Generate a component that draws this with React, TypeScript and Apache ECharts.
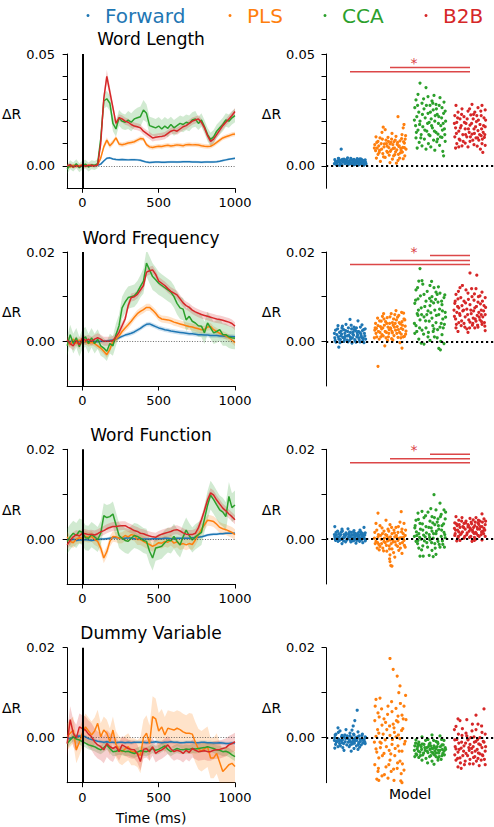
import React, { useEffect, useRef } from "react";
import * as echarts from "echarts";

const FONT = "DejaVu Sans";
const MODELS = ["Forward", "PLS", "CCA", "B2B"];
const COLORS = ["#1f77b4", "#ff7f0e", "#2ca02c", "#d62728"];
const TITLES = ["Word Length", "Word Frequency", "Word Function", "Dummy Variable"];
const Y_MIN = [-0.01, -0.01, -0.01, -0.01];
const Y_MAX = [0.05, 0.02, 0.02, 0.02];
const Y_TICKS = [
  [0, 0.01, 0.02, 0.03, 0.04, 0.05],
  [0, 0.01, 0.02],
  [0, 0.01, 0.02],
  [0, 0.01, 0.02],
];
const Y_LABELS = [[0, 0.05], [0, 0.02], [0, 0.02], [0, 0.02]];
const X_TICKS = [0, 500, 1000];
const UNIT = 0.001; // all values below are ΔR in thousandths

const TIMES = [-100, -80, -60, -40, -20, 0, 20, 40, 60, 80, 100, 120, 140, 160, 180, 200, 220, 240, 260, 280, 300, 320, 340, 360, 380, 400, 420, 440, 460, 480, 500, 520, 540, 560, 580, 600, 620, 640, 660, 680, 700, 720, 740, 760, 780, 800, 820, 840, 860, 880, 900, 920, 940, 960, 980, 1000];

// ---- Word Length (time courses, mean and half-width of band)
const fwd1 = [0.0,0.3,-0.1,0.2,0.0,0.1,0.2,0.0, 0.1,0.2,0.3,0.8,2.2,3.4,3.6,3.1, 2.9,2.8,2.9,2.8,2.7,2.8,2.8,2.7, 2.5,2.1,1.7,1.5,1.6,1.7,1.7,1.6, 1.6,1.7,1.8,1.8,1.7,1.8,1.9,1.9, 1.9,1.8,1.8,1.7,1.6,1.7,1.8,1.7, 1.8,1.9,2.1,2.4,2.7,3.0,3.2,3.4];
const pls1 = [0.2,-0.5,0.3,-0.3,0.1,0.4,-0.2,0.3, 0.0,0.2,0.5,3.5,8.5,11.5,9.0,10.5, 12.5,9.8,9.5,9.8,10.2,10.5,10.8,11.5, 12.2,12.0,9.5,8.5,8.2,8.6,8.8,8.7, 9.0,9.2,8.9,9.1,9.4,9.2,9.0,9.5, 9.6,9.4,9.5,9.3,9.0,8.8,8.7,8.8, 9.5,10.5,11.5,12.5,13.0,13.5,14.0,14.3];
const cca1 = [-1.5,0.5,-0.5,1.0,-0.8,0.3,0.8,-0.5, 0.5,0.2,1.0,12.0,29.0,30.0,28.0,19.0, 16.5,21.5,20.0,19.5,20.5,19.5,21.0,21.5, 22.0,25.0,23.5,18.0,17.5,17.0,17.8,16.5, 17.8,16.8,18.5,17.0,18.0,19.0,18.5,19.5, 19.0,20.5,21.0,19.0,20.5,17.5,14.0,11.8, 13.0,15.5,17.0,18.5,20.5,20.0,21.5,22.5];
const b2b1 = [0.0,0.5,-0.5,0.2,-0.3,0.3,0.0,0.2, 0.3,0.0,0.5,10.0,30.0,40.0,33.0,26.0, 19.0,21.5,21.0,20.0,19.5,18.5,17.8,17.5, 17.0,15.5,14.5,13.5,12.5,12.8,13.0,13.2, 13.5,14.5,15.5,16.0,15.5,16.5,17.5,18.0, 19.0,20.0,20.5,21.0,19.5,17.0,13.5,11.0, 12.0,14.0,16.0,18.0,19.5,21.0,22.5,24.3];
const eFwd1 = [0.3,0.3,0.3,0.3,0.3,0.3,0.3,0.3, 0.3,0.3,0.4,0.5,0.5,0.5,0.5,0.5, 0.5,0.5,0.5,0.5,0.5,0.5,0.5,0.5, 0.5,0.5,0.5,0.5,0.5,0.5,0.5,0.5, 0.5,0.5,0.5,0.5,0.5,0.5,0.5,0.5, 0.5,0.5,0.5,0.5,0.5,0.5,0.5,0.5, 0.5,0.5,0.5,0.5,0.5,0.5,0.5,0.5];
const ePls1 = [0.6,0.6,0.6,0.6,0.6,0.6,0.6,0.6, 0.6,0.6,0.7,1.0,1.3,1.3,1.2,1.2, 1.0,1.0,1.0,1.0,1.0,1.0,1.0,1.0, 1.0,1.0,1.0,1.0,1.0,1.0,1.0,1.0, 1.0,1.0,1.0,1.0,1.0,1.0,1.0,1.0, 1.0,1.0,1.0,1.0,1.0,1.0,1.0,1.0, 1.0,1.0,1.0,1.0,1.0,1.0,1.0,1.0];
const eCca1 = [2.0,2.0,2.0,2.0,2.0,2.0,2.0,2.0, 2.0,2.0,2.0,2.5,3.5,3.5,3.5,3.5, 3.5,3.5,3.5,3.5,4.0,4.0,4.0,4.5, 4.5,4.5,4.0,4.0,4.0,4.0,4.0,4.0, 4.0,4.0,3.5,3.5,3.5,3.5,3.5,3.5, 3.5,3.5,3.5,3.0,3.0,3.0,3.0,3.0, 3.0,3.0,3.0,3.0,3.0,3.0,3.0,3.0];
const eB2b1 = [0.8,0.8,0.8,0.8,0.8,0.8,0.8,0.8, 0.8,0.8,0.8,1.5,2.5,2.8,2.5,2.0, 1.6,1.6,1.6,1.6,1.6,1.6,1.6,1.6, 1.6,1.6,1.6,1.6,1.6,1.6,1.6,1.6, 1.6,1.6,1.6,1.6,1.6,1.6,1.6,1.6, 1.6,1.6,1.6,1.6,1.6,1.6,1.6,1.6, 1.6,1.6,1.6,1.6,1.6,1.6,1.6,1.6];

// ---- Word Frequency
const fwd2 = [0.0,-0.1,0.1,-0.1,0.0,-0.2,-0.1,0.0, -0.1,0.0,-0.1,0.0,0.0,0.1,0.2,0.3, 0.5,0.8,1.1,1.4,1.6,1.8,2.1,2.5, 2.9,3.4,3.8,3.9,3.6,3.3,3.0,2.8, 2.6,2.5,2.3,2.2,2.1,2.0,1.9,1.8, 1.7,1.7,1.6,1.5,1.5,1.4,1.4,1.3, 1.3,1.3,1.2,1.2,1.1,1.1,1.1,1.0];
const pls2 = [0.2,-0.8,0.5,-0.5,0.3,-0.3,0.0,-0.5, -0.2,-0.5,-1.0,-1.5,-2.2,-3.0,-1.8,0.0, 0.5,1.2,2.2,3.0,3.7,4.5,5.4,6.2, 6.7,7.1,7.6,7.6,7.0,6.3,5.4,5.0, 4.9,4.8,4.6,4.3,4.1,3.9,3.7,3.5, 3.3,3.2,3.0,2.8,2.6,2.7,3.2,3.3, 2.6,2.2,1.8,1.5,1.2,0.8,0.3,-0.3];
const cca2 = [-1.0,1.5,-0.5,0.8,-1.2,0.5,1.0,-0.5, 0.8,-0.5,0.5,-1.0,-1.5,-2.2,-0.5,-1.0, 1.5,3.5,7.5,8.8,9.8,10.0,10.2,11.0, 12.3,13.5,17.5,16.0,14.5,13.8,13.0,12.5, 12.0,11.5,11.0,10.0,8.5,7.5,7.2,4.8, 5.6,4.5,4.1,3.5,3.4,1.9,4.1,3.0, 1.9,2.2,2.6,1.5,1.5,1.0,0.8,0.7];
const b2b2 = [0.3,-0.5,-1.0,0.2,-0.8,0.8,0.2,0.5, 0.0,0.5,0.8,0.5,0.0,0.0,0.0,0.2, 1.0,2.0,3.5,5.0,8.0,9.8,10.0,10.5, 11.5,12.5,15.5,15.8,16.0,15.0,13.5,13.0, 12.5,11.8,11.2,10.8,10.4,9.5,8.6,8.0, 7.6,7.0,6.6,6.3,6.0,5.8,5.6,5.4, 5.2,5.0,4.9,4.7,4.5,4.3,4.0,3.4];
const eFwd2 = [0.3,0.3,0.3,0.3,0.3,0.3,0.3,0.3, 0.3,0.3,0.3,0.3,0.3,0.3,0.3,0.3, 0.4,0.4,0.4,0.4,0.5,0.5,0.5,0.5, 0.5,0.5,0.5,0.5,0.5,0.5,0.5,0.5, 0.5,0.5,0.5,0.5,0.5,0.5,0.5,0.5, 0.5,0.5,0.5,0.5,0.5,0.5,0.5,0.5, 0.5,0.5,0.5,0.5,0.5,0.5,0.5,0.5];
const ePls2 = [0.7,0.7,0.7,0.7,0.7,0.7,0.7,0.7, 0.7,0.7,0.7,0.7,0.7,0.7,0.7,0.7, 0.8,0.8,0.8,0.8,0.8,0.8,0.8,0.8, 0.8,0.8,0.8,0.8,0.8,0.8,0.8,0.8, 0.8,0.8,0.8,0.8,0.8,0.8,0.8,0.8, 0.8,0.8,0.8,0.8,0.8,0.8,0.8,0.8, 0.8,0.8,0.8,0.8,0.8,0.8,0.8,0.8];
const eCca2 = [2.2,2.2,2.2,2.2,2.2,2.2,2.2,2.2, 2.2,2.2,2.2,2.2,2.2,2.2,2.2,2.2, 2.5,2.5,2.5,2.5,2.5,2.5,2.5,2.5, 2.5,2.8,3.0,3.0,3.0,2.8,2.6,2.5, 2.5,2.5,2.5,2.5,2.5,2.5,2.5,2.5, 2.5,2.5,2.5,2.5,2.5,2.5,2.5,2.5, 2.5,2.5,2.5,2.5,2.5,2.5,2.5,2.5];
const eB2b2 = [1.0,1.0,1.0,1.0,1.0,1.0,1.0,1.0, 1.0,1.0,1.0,1.0,1.0,1.0,1.0,1.0, 0.9,0.9,0.9,0.9,0.9,0.9,0.9,0.9, 0.9,0.9,0.9,0.9,0.9,0.9,0.9,0.9, 0.9,0.9,0.9,0.9,0.9,0.9,0.9,0.9, 0.9,0.9,0.9,0.9,0.9,0.9,0.9,0.9, 0.9,0.9,0.9,0.9,0.9,0.9,0.9,0.9];

// ---- Word Function
const fwd3 = [0.0,-0.2,0.0,-0.3,-0.2,-0.2,-0.1,-0.2, -0.3,-0.2,-0.1,0.0,0.0,0.1,0.2,0.3, 0.3,0.3,0.2,0.2,0.3,0.2,0.1,0.1, 0.1,0.0,0.0,0.0,0.1,0.1,0.1,0.1, 0.2,0.2,0.1,0.1,0.2,0.2,0.2,0.2, 0.2,0.3,0.3,0.4,0.5,0.7,0.9,1.0, 1.1,1.1,1.2,1.2,1.3,1.3,1.3,1.3];
const pls3 = [0.5,-0.5,-0.8,0.0,0.3,0.2,0.6,0.4, 0.6,-0.1,-0.5,-2.0,-4.2,-2.8,-0.5,0.6, 0.5,0.2,0.3,0.8,0.5,1.0,0.8,-0.1, -0.1,-0.5,-0.9,-1.2,-1.6,-1.3,-0.8,-0.9, -0.5,-0.7,-0.2,-0.9,-0.6,-1.2,-1.0,-1.3, -1.0,-1.2,-0.2,1.0,2.2,3.2,4.2,4.1, 3.9,3.3,2.6,2.3,2.1,1.8,1.5,1.0];
const cca3 = [-0.5,0.5,1.3,0.8,1.8,1.5,0.3,0.2, 1.0,0.5,-0.1,1.3,5.2,4.8,5.0,5.6, 3.2,0.8,0.2,-0.3,-0.5,0.2,0.8,0.6, 0.2,-0.3,-0.5,-2.7,-4.2,-2.0,-1.8,-1.6, -0.8,-0.2,-0.4,0.6,-0.5,-1.3,0.5,2.0, 0.8,-0.2,0.5,1.0,1.5,4.5,7.5,9.8, 8.8,7.6,6.5,6.0,5.0,9.5,7.0,7.6];
const b2b3 = [-1.3,-0.3,0.5,1.0,0.7,1.3,1.2,1.0, 1.1,0.9,1.2,1.6,1.9,2.3,2.6,2.8, 2.8,2.9,3.0,3.0,2.6,2.3,1.9,1.7, 1.3,1.2,0.9,0.7,0.5,0.4,0.8,1.1, 1.3,1.5,1.7,2.0,2.1,1.8,1.4,1.1, 1.0,1.0,1.3,2.5,4.3,6.4,8.7,10.3, 9.8,8.7,7.8,6.9,6.3,5.6,5.0,4.3];
const eFwd3 = [0.3,0.3,0.3,0.3,0.3,0.3,0.3,0.3, 0.3,0.3,0.3,0.3,0.3,0.3,0.3,0.3, 0.3,0.3,0.3,0.3,0.3,0.3,0.3,0.3, 0.3,0.3,0.3,0.3,0.3,0.3,0.3,0.3, 0.3,0.3,0.3,0.3,0.3,0.3,0.3,0.3, 0.3,0.3,0.3,0.3,0.3,0.3,0.3,0.3, 0.3,0.3,0.3,0.3,0.3,0.3,0.3,0.3];
const ePls3 = [1.2,1.2,1.2,1.2,1.2,1.2,1.2,1.2, 1.2,1.2,1.2,1.2,1.2,1.2,1.2,1.2, 1.2,1.2,1.2,1.2,1.2,1.2,1.2,1.2, 1.2,1.2,1.2,1.2,1.2,1.2,1.2,1.2, 1.2,1.2,1.2,1.2,1.2,1.2,1.2,1.2, 1.2,1.2,1.2,1.2,1.2,1.2,1.2,1.2, 1.2,1.2,1.2,1.2,1.2,1.2,1.2,1.2];
const eCca3 = [2.8,2.8,2.8,2.8,2.8,2.8,2.8,2.8, 2.8,2.8,2.8,2.8,2.8,2.8,2.8,2.8, 2.8,2.8,2.8,2.8,2.8,2.8,2.8,2.8, 2.8,2.8,2.8,2.8,2.8,2.8,2.8,2.8, 2.8,2.8,2.8,2.8,2.8,2.8,2.8,2.8, 2.8,2.8,2.8,2.8,2.8,3.0,3.2,3.2, 3.2,3.2,3.2,3.2,3.2,3.2,3.2,3.2];
const eB2b3 = [1.0,1.0,1.0,1.0,1.0,1.0,1.0,1.0, 1.0,1.0,1.0,1.0,1.0,1.0,1.0,1.0, 1.0,1.0,1.0,1.0,1.0,1.0,1.0,1.0, 1.0,1.0,1.0,1.0,1.0,1.0,1.0,1.0, 1.0,1.0,1.0,1.0,1.0,1.0,1.0,1.0, 1.0,1.0,1.0,1.0,1.0,1.0,1.0,1.0, 1.0,1.0,1.0,1.0,1.0,1.0,1.0,1.0];

// ---- Dummy Variable
const fwd4 = [0.0,-0.3,0.2,0.3,0.4,0.3,0.2,-0.2, -0.4,-0.6,-0.8,-0.9,-1.0,-0.9,-1.0,-1.0, -1.1,-1.0,-1.0,-1.1,-1.0,-1.1,-1.0,-1.0, -1.0,-1.0,-1.1,-1.0,-1.0,-0.9,-1.0,-1.1, -1.0,-1.0,-0.9,-1.0,-1.0,-1.1,-1.1,-1.0, -1.0,-1.0,-1.1,-1.1,-1.0,-1.0,-1.1,-1.1, -1.2,-1.2,-1.1,-1.2,-1.3,-1.3,-1.2,-1.2];
const pls4 = [0.2,1.0,1.7,-2.7,-1.0,1.0,2.4,1.5, 0.6,1.5,3.2,0.2,1.7,1.0,-0.9,1.7, -1.5,-2.7,-3.1,-2.5,-2.0,-3.1,-3.1,-3.5, -3.9,0.0,1.0,-1.3,4.7,4.2,1.5,2.4, 0.6,2.1,1.9,1.7,2.1,1.8,1.3,1.0, 1.0,0.8,-1.0,-2.5,-3.0,-2.5,-2.0,-4.5, -4.5,-3.5,-5.5,-7.5,-6.8,-6.0,-5.7,-6.4];
const cca4 = [-1.3,-0.5,0.2,-0.3,-0.5,-0.9,-1.2,-1.6, -1.8,-2.0,-2.4,-2.7,-2.2,-1.6,-2.4,-3.1, -3.0,-2.8,-2.9,-3.1,-3.0,-3.3,-3.5,-3.2, -2.9,-3.0,-3.1,-2.8,-2.4,-2.8,-2.6,-2.2, -1.8,-2.6,-3.1,-2.7,-2.4,-2.6,-2.7,-2.5, -2.6,-2.4,-2.5,-2.4,-2.3,-2.2,-2.0,-2.2, -2.4,-2.7,-2.8,-3.1,-3.0,-3.3,-3.8,-4.2];
const b2b4 = [-1.3,4.0,1.0,-0.1,2.4,2.0,1.7,0.8, 0.2,-0.9,-1.6,-2.0,-2.7,-1.3,-2.0,-2.4, -2.0,-3.1,-1.6,-2.0,-2.4,-2.6,-2.7,-3.5, -5.3,-2.6,-2.4,-3.1,-2.0,-3.5,-3.0,-2.7, -2.2,-1.6,-2.5,-3.1,-2.8,-3.0,-3.5,-2.8, -3.3,-2.4,-2.8,-3.1,-3.0,-2.9,-3.1,-3.1, -2.8,-2.7,-2.6,-2.4,-2.2,-1.6,-1.3,-0.9];
const eFwd4 = [0.4,0.4,0.4,0.4,0.4,0.4,0.4,0.4, 0.4,0.4,0.4,0.4,0.4,0.4,0.4,0.4, 0.4,0.4,0.4,0.4,0.4,0.4,0.4,0.4, 0.4,0.4,0.4,0.4,0.4,0.4,0.4,0.4, 0.4,0.4,0.4,0.4,0.4,0.4,0.4,0.4, 0.4,0.4,0.4,0.4,0.4,0.4,0.4,0.4, 0.4,0.4,0.4,0.4,0.4,0.4,0.4,0.4];
const ePls4 = [3.0,3.0,3.0,3.0,3.0,3.0,3.0,3.0, 3.0,3.0,3.0,3.0,3.0,3.0,3.0,3.0, 3.0,3.0,3.0,3.0,3.0,3.0,3.0,3.0, 4.0,4.0,4.0,4.0,4.5,4.5,4.0,4.0, 4.0,4.0,4.0,4.0,4.0,4.0,4.0,4.0, 4.5,4.5,4.5,4.5,4.5,4.5,4.5,4.5, 4.5,4.5,4.5,4.5,4.5,4.5,4.5,4.5];
const eCca4 = [1.0,1.0,1.0,1.0,1.0,1.0,1.0,1.0, 1.0,1.0,1.0,1.0,1.0,1.0,1.0,1.0, 1.0,1.0,1.0,1.0,1.0,1.0,1.0,1.0, 1.0,1.0,1.0,1.0,1.0,1.0,1.0,1.0, 1.0,1.0,1.0,1.0,1.0,1.0,1.0,1.0, 1.0,1.0,1.0,1.0,1.0,1.0,1.0,1.0, 1.0,1.0,1.0,1.0,1.0,1.0,1.0,1.0];
const eB2b4 = [3.0,3.0,3.0,3.0,3.0,3.0,3.0,3.0, 3.0,3.0,3.0,3.0,3.0,3.0,3.0,3.0, 2.0,2.0,2.0,2.0,2.0,2.0,2.0,2.0, 2.0,2.0,2.0,2.0,2.0,2.0,2.0,2.0, 2.0,2.0,2.0,2.0,2.0,2.0,2.0,2.0, 2.0,2.0,2.0,2.0,2.0,2.0,2.0,2.0, 2.0,2.0,2.0,2.0,2.0,2.0,2.0,2.0];

// ---- per-subject scores: [horizontal offset within the category in hundredths, ΔR in thousandths]
const ptsFwd1 = [[-22,7.5],[-38,2.8],[-35,1.5],[-33,0.8],[-30,2.2],[-28,3.2],[-25,1.2],[-22,2.5],[-20,0.5],[-18,1.8],[-15,3.0],[-12,1.0],[-10,2.0],[-8,2.8],[-5,0.6],[-3,1.6],[0,2.4],[2,3.4],[4,1.2],[6,0.4],[8,2.0],[10,2.9],[12,1.4],[14,0.8],[16,2.2],[18,3.3],[20,1.7],[22,0.5],[24,2.6],[26,1.0],[28,3.0],[30,1.9],[32,0.7],[34,2.3],[36,1.3],[38,2.7],[40,0.9],[-36,2.0],[-26,0.3],[-16,2.3],[-6,3.6],[5,2.6],[15,1.5],[25,3.1],[35,0.4],[-2,0.9],[9,1.1],[19,2.5],
  [-39,1.0],[-31,1.7],[-27,2.0],[-23,0.9],[-19,2.9],[-14,1.6],[-11,2.6],[-7,1.3],[-4,2.1],[1,1.0],[3,2.9],[7,1.7],[11,0.6],[13,2.4],[17,1.2],[21,2.8],[23,1.4],[27,2.0],[29,0.8],[31,2.6],[33,1.5],[37,2.0],[39,1.6],[-34,0.5],[-29,3.4]];
const ptsPls1 = [[20,22.0],[35,18.5],[33,17.0],[-17,17.3],[-12,16.2],[-20,15.0],[5,14.5],[30,14.0],[-35,13.0],[-25,12.5],[-5,12.8],[15,13.2],[38,12.0],[-30,11.0],[-10,11.5],[10,10.8],[25,11.2],[-38,9.5],[-22,10.0],[0,9.8],[18,9.6],[36,10.2],[-32,8.0],[-15,8.5],[-3,8.2],[8,7.8],[22,8.7],[32,8.3],[-36,6.8],[-26,7.0],[-8,6.5],[3,7.2],[14,6.3],[28,6.9],[40,7.5],[-30,5.2],[-18,5.5],[-2,4.8],[12,5.0],[26,5.8],[37,4.5],[-34,3.5],[-12,3.8],[6,3.0],[20,2.5],[33,3.2],[-24,2.0],[0,1.5],[16,1.2],[-6,6.0],[-28,9.0],
  [-39,8.0],[-33,10.5],[-27,6.0],[-21,7.5],[-19,12.0],[-14,9.8],[-9,10.0],[-7,8.8],[-4,11.0],[1,6.5],[4,12.0],[7,9.5],[9,4.5],[11,8.0],[13,11.5],[17,7.2],[19,10.5],[21,5.2],[23,9.0],[27,7.8],[29,12.2],[31,6.2],[34,10.8],[36,8.2],[39,13.5],[-16,4.0],[24,3.5],[2,10.5]];
const ptsCca1 = [[-25,37.0],[-10,35.0],[-30,32.0],[-5,31.0],[10,31.5],[-35,29.5],[5,29.0],[25,30.5],[-20,28.0],[0,27.0],[15,27.5],[35,28.5],[-38,26.0],[-15,25.5],[8,25.0],[30,26.0],[-28,24.0],[-5,23.5],[18,23.0],[38,24.5],[-33,22.0],[-12,21.5],[3,21.0],[22,22.0],[-25,20.0],[-2,19.5],[12,20.0],[33,19.0],[-36,18.0],[-18,17.5],[6,17.0],[27,18.0],[-30,16.0],[-8,15.5],[15,15.0],[36,16.5],[-22,14.0],[0,13.5],[20,14.2],[-35,12.5],[-14,12.0],[9,11.5],[30,12.8],[-27,10.5],[-4,10.0],[17,10.8],[38,11.0],[-20,9.0],[2,8.5],[24,9.2],[-10,7.5],[12,7.0],[32,6.5],[34,4.5],[-32,8.0],
  [-39,20.5],[-34,15.0],[-31,27.0],[-26,18.5],[-23,12.5],[-19,23.0],[-16,30.0],[-13,16.0],[-9,27.0],[-6,19.0],[-3,14.0],[1,24.0],[4,18.0],[7,28.0],[11,15.5],[13,22.5],[16,25.5],[19,12.0],[21,19.0],[23,27.0],[26,13.0],[29,21.5],[31,16.0],[34,23.5],[37,14.0],[39,20.0]];
const ptsB2b1 = [[-35,27.0],[5,27.5],[30,27.0],[-20,25.5],[20,26.0],[38,25.0],[-30,24.0],[-5,24.5],[12,24.0],[-38,22.5],[-15,22.0],[2,22.8],[28,22.5],[-25,21.0],[8,21.0],[35,21.5],[-33,19.5],[-10,19.0],[16,19.8],[-22,18.0],[0,18.2],[25,18.5],[38,17.5],[-36,17.0],[-12,16.5],[10,16.5],[-28,15.5],[-2,15.0],[20,15.8],[33,15.0],[-18,14.0],[5,14.2],[28,13.5],[-38,13.0],[-8,13.0],[15,12.5],[36,12.8],[-25,11.5],[0,11.0],[22,11.5],[-33,10.0],[-12,10.2],[10,9.5],[30,10.0],[-20,9.0],[18,8.8],[38,9.2],[-36,8.0],[-5,8.5],[26,7.5],[32,6.0],[-28,8.5],
  [-39,19.0],[-34,14.5],[-31,21.5],[-27,12.0],[-24,17.0],[-21,23.0],[-17,11.0],[-14,19.5],[-11,14.0],[-7,21.0],[-4,16.5],[-1,25.5],[1,13.0],[4,19.0],[7,11.5],[9,23.0],[11,14.5],[14,17.5],[17,22.5],[19,12.5],[21,20.5],[24,14.0],[27,24.5],[29,16.5],[31,12.0],[34,18.0],[37,14.0],[39,20.5]];
const ptsFwd2 = [[-30,3.5],[-20,3.0],[-10,3.8],[0,4.9],[10,3.2],[20,4.6],[30,3.7],[38,2.8],[-36,2.5],[-26,2.0],[-16,2.6],[-6,2.2],[4,2.8],[14,2.4],[24,2.0],[34,2.6],[-33,1.5],[-23,1.2],[-13,1.8],[-3,1.4],[7,1.6],[17,1.0],[27,1.7],[37,1.2],[-38,0.8],[-28,0.5],[-18,0.9],[-8,0.3],[2,0.6],[12,0.4],[22,0.8],[32,0.2],[-35,-0.2],[-25,-0.3],[-15,0.0],[-5,-0.1],[5,-0.4],[15,-0.2],[25,-0.1],[35,-0.3],[-28,-1.3],[-12,1.1],[8,2.1],[18,1.9],[28,1.3],[-22,2.3],[0,1.0],[33,0.7],
  [-39,1.8],[-37,0.2],[-31,2.8],[-29,1.0],[-24,0.4],[-21,1.6],[-19,3.4],[-14,0.6],[-11,2.4],[-7,1.2],[-4,3.0],[-1,0.2],[1,2.0],[3,3.6],[6,0.8],[9,1.4],[11,2.6],[13,0.1],[16,3.0],[19,1.4],[21,2.2],[23,0.4],[26,3.2],[29,0.9],[31,2.4],[36,1.8],[39,0.5]];
const ptsPls2 = [[-30,-5.6],[30,-1.5],[-38,2.5],[-33,1.0],[-30,3.5],[-27,0.5],[-25,2.0],[-22,4.5],[-20,1.5],[-18,3.0],[-15,5.0],[-12,2.2],[-10,0.8],[-8,4.0],[-5,3.2],[-3,1.8],[0,5.5],[2,2.8],[4,0.6],[6,4.2],[8,3.6],[10,1.3],[12,6.0],[14,2.5],[16,4.8],[18,3.3],[20,0.9],[22,5.8],[24,2.0],[26,3.9],[28,1.6],[30,4.4],[32,2.7],[34,6.3],[36,1.1],[38,3.4],[40,2.3],[-36,4.0],[-16,6.2],[-6,0.2],[15,6.9],[25,-0.3],[-24,3.3],[35,5.0],[-2,2.6],[28,2.9],[-34,2.9],[6,1.9],
  [-39,0.8],[-37,3.0],[-35,1.8],[-31,5.2],[-29,2.2],[-26,4.6],[-23,1.0],[-21,2.8],[-19,5.6],[-17,1.2],[-14,3.6],[-11,4.4],[-9,2.0],[-7,5.3],[-4,1.0],[-1,4.0],[1,3.0],[3,6.2],[5,2.2],[7,0.3],[9,5.0],[11,3.2],[13,4.0],[17,1.8],[19,5.4],[21,2.6],[23,4.2],[27,0.8],[29,6.5],[31,3.6],[33,1.0],[37,4.8],[39,1.6],[-13,-1.0]];
const ptsCca2 = [[-25,16.3],[-28,13.5],[-20,13.6],[0,12.5],[10,12.0],[-35,11.5],[15,11.0],[25,10.8],[-15,10.5],[5,10.0],[-30,9.5],[35,9.8],[-10,9.0],[20,8.8],[-38,8.5],[0,8.0],[30,8.2],[-22,7.5],[12,7.0],[-5,6.8],[38,6.5],[-32,6.2],[22,6.0],[-15,5.5],[5,5.2],[32,5.0],[-25,4.8],[-2,4.5],[15,4.2],[36,3.8],[-35,3.5],[-10,3.0],[25,3.2],[-20,2.5],[8,2.2],[-38,1.8],[30,1.5],[-5,1.0],[18,0.8],[-28,0.5],[0,0.2],[35,-0.5],[-15,-0.6],[22,-1.6],[26,-1.9],[-22,-0.4],[10,2.8],[-8,6.0],[28,4.0],[-30,5.8],[3,9.0],[18,10.5],
  [-39,4.0],[-36,9.2],[-33,2.2],[-31,12.0],[-29,7.0],[-26,3.0],[-24,10.2],[-21,6.0],[-18,12.8],[-16,1.6],[-13,7.8],[-11,4.6],[-7,11.2],[-4,2.0],[-1,9.6],[2,6.4],[4,13.4],[7,3.5],[9,8.6],[11,1.0],[14,9.4],[16,5.8],[19,2.6],[21,12.2],[24,7.2],[27,0.0],[29,9.0],[31,6.8],[33,3.0],[37,10.4],[39,5.4]];
const ptsB2b2 = [[0,15.3],[-25,12.0],[-10,11.5],[15,11.8],[30,11.0],[-35,10.5],[-5,10.8],[5,10.0],[25,10.2],[38,9.8],[-30,9.5],[-15,9.0],[10,9.2],[20,8.8],[-38,8.5],[-20,8.0],[0,8.2],[35,8.0],[-28,7.5],[-8,7.2],[12,7.5],[28,7.0],[-33,6.5],[-18,6.8],[3,6.2],[22,6.5],[38,6.0],[-25,5.8],[-12,5.5],[8,5.2],[18,5.8],[32,5.5],[-36,5.0],[-3,4.8],[15,4.5],[25,4.8],[-28,4.2],[-15,4.0],[0,4.3],[36,4.2],[-22,3.5],[6,3.6],[20,3.2],[30,3.8],[-35,3.0],[-8,2.8],[12,3.0],[38,2.4],[-30,2.2],[-5,2.0],[28,6.0],[-40,7.0],
  [-39,5.6],[-37,9.0],[-34,3.8],[-31,7.8],[-29,11.2],[-26,6.2],[-23,9.8],[-21,4.6],[-19,12.5],[-16,7.0],[-13,3.2],[-11,8.6],[-6,6.0],[-4,9.4],[-1,3.0],[2,7.0],[4,11.8],[7,4.0],[9,6.8],[11,10.6],[13,5.0],[16,7.8],[19,3.6],[21,10.0],[23,5.4],[26,8.4],[29,4.4],[31,9.0],[34,6.8],[37,3.4],[39,7.6],[17,14.8]];
const ptsFwd3 = [[-38,2.8],[-20,2.2],[-5,2.3],[10,1.9],[25,2.0],[35,2.6],[-35,1.5],[-28,1.2],[-22,1.6],[-15,1.0],[-10,1.4],[-3,1.2],[3,1.5],[8,1.0],[13,1.3],[18,0.8],[22,1.5],[28,1.1],[33,0.9],[38,1.4],[-38,0.5],[-32,0.2],[-26,0.6],[-18,0.3],[-12,0.7],[-6,0.1],[0,0.5],[6,0.3],[12,0.6],[16,0.0],[20,0.4],[26,0.2],[30,0.6],[36,0.1],[-36,-0.3],[-30,-0.5],[-24,-0.1],[-16,-0.4],[-8,-0.2],[2,-0.6],[10,-0.3],[24,-0.5],[32,-0.8],[38,-0.4],[-20,-1.0],[15,-0.9],[-2,0.8],[28,-0.2],
  [-39,1.0],[-37,0.0],[-34,0.9],[-31,1.8],[-29,0.4],[-27,-0.3],[-23,1.0],[-21,0.0],[-19,1.8],[-14,0.4],[-11,-0.6],[-9,1.0],[-4,0.4],[-1,1.6],[1,-0.2],[4,0.9],[7,-0.4],[9,1.6],[11,0.2],[14,1.0],[17,-0.3],[19,1.2],[21,-0.1],[23,0.8],[27,1.6],[29,0.0],[31,1.3],[34,0.4],[37,0.9],[39,-0.1]];
const ptsPls3 = [[-30,5.8],[28,6.1],[-10,4.2],[25,3.8],[-35,3.5],[-25,3.0],[0,3.2],[15,2.6],[35,3.5],[-20,2.5],[-5,2.2],[10,2.0],[30,2.2],[-38,1.5],[-15,1.8],[5,1.2],[20,1.5],[38,0.8],[-30,0.5],[-8,0.8],[12,0.5],[28,0.3],[-22,0.0],[0,-0.2],[18,0.2],[35,-0.3],[-35,-0.5],[-12,-0.8],[8,-0.6],[25,-1.0],[-28,-1.2],[-2,-1.5],[15,-1.3],[38,-1.8],[-18,-2.0],[5,-2.2],[22,-2.5],[-32,-2.0],[-8,-2.7],[30,-3.2],[0,-3.5],[12,-4.0],[2,-5.9],[0,-5.0],[-25,-1.6],[20,-0.3],[-5,0.3],[33,1.2],[-15,-0.5],
  [-39,0.2],[-37,-1.0],[-33,2.0],[-31,-0.8],[-29,1.0],[-27,-2.4],[-24,0.8],[-21,-1.0],[-19,1.2],[-16,-2.6],[-14,0.2],[-11,1.0],[-9,-1.4],[-6,-0.4],[-3,1.8],[-1,-2.2],[1,0.5],[3,-1.0],[4,2.6],[7,-0.2],[9,-3.0],[11,1.4],[13,-0.6],[16,0.8],[19,-1.6],[21,2.8],[24,0.2],[26,-2.0],[29,1.6],[31,-0.8],[34,0.4],[36,-1.4],[39,2.0],[5,-6.0],[-1,-4.4]];
const ptsCca3 = [[10,9.9],[25,8.0],[-20,6.2],[-5,6.0],[35,6.5],[15,6.5],[-30,5.8],[5,5.0],[28,5.5],[-15,4.8],[20,4.5],[-35,4.2],[0,4.0],[38,4.5],[-25,3.5],[12,3.2],[30,3.0],[-10,2.8],[-38,2.5],[22,2.2],[-18,2.0],[5,1.8],[35,1.5],[-28,1.2],[-2,1.0],[15,1.2],[-33,0.8],[28,0.6],[-12,0.5],[8,0.2],[38,0.3],[-22,0.0],[0,-0.2],[20,-0.5],[-35,-0.5],[-8,-0.8],[12,-1.0],[32,-1.2],[-18,-1.5],[25,-1.8],[-28,-2.0],[5,-2.5],[-2,-3.6],[-25,-3.8],[15,-3.4],[36,-1.8],[-30,-0.3],[3,2.5],[18,3.8],
  [-39,0.6],[-37,3.0],[-34,1.6],[-31,-1.0],[-29,4.4],[-26,0.4],[-24,2.2],[-21,-2.4],[-19,3.4],[-16,0.9],[-14,-0.4],[-11,5.2],[-9,1.4],[-6,-1.8],[-3,2.6],[-1,0.4],[2,6.8],[4,-0.8],[7,3.6],[9,1.2],[11,4.8],[13,-2.0],[16,1.8],[19,0.0],[21,3.0],[23,-1.2],[26,5.0],[29,2.0],[31,-0.4],[34,3.4],[37,1.0],[39,6.0],[-17,-3.8],[8,-3.9]];
const ptsB2b3 = [[30,5.6],[-35,5.0],[-20,4.8],[0,4.6],[15,4.8],[35,4.5],[-28,4.2],[-10,4.0],[8,4.3],[25,4.0],[-38,3.6],[-15,3.5],[3,3.8],[20,3.6],[38,3.2],[-32,3.0],[-5,3.2],[12,3.0],[30,2.8],[-25,2.6],[-18,2.8],[0,2.5],[18,2.6],[35,2.4],[-36,2.0],[-12,2.2],[6,2.0],[24,2.2],[-28,1.6],[-2,1.8],[14,1.5],[32,1.8],[-22,1.2],[-8,1.0],[10,1.3],[28,1.0],[-38,0.8],[2,0.6],[20,0.8],[38,0.6],[-30,0.3],[-15,0.2],[15,0.0],[-25,-0.3],[5,-0.5],[30,-0.2],[-5,2.7],[22,3.3],
  [-39,2.4],[-37,1.2],[-34,3.4],[-31,2.0],[-29,0.6],[-27,3.2],[-24,1.0],[-21,4.0],[-19,1.6],[-16,2.6],[-13,0.6],[-11,3.6],[-7,1.4],[-4,3.0],[-1,0.4],[1,2.2],[4,3.4],[7,1.6],[9,2.6],[11,0.4],[13,3.8],[16,1.2],[19,2.2],[21,4.2],[23,0.6],[26,2.8],[29,1.6],[31,3.8],[34,1.2],[37,2.0],[39,4.0],[-33,-0.4],[11,-0.3]];
const ptsFwd4 = [[18,6.1],[12,3.8],[-30,2.2],[-25,1.5],[-10,1.8],[5,1.7],[20,1.3],[-35,0.8],[-20,0.5],[0,1.0],[10,0.6],[30,0.5],[38,0.2],[-38,0.0],[-28,-0.3],[-15,0.2],[-5,-0.2],[8,-0.4],[15,0.0],[25,-0.3],[35,-0.5],[-33,-0.8],[-22,-0.6],[-12,-0.9],[2,-1.0],[12,-0.7],[22,-1.1],[32,-1.2],[-36,-1.5],[-26,-1.3],[-8,-1.6],[6,-1.4],[16,-1.8],[28,-1.6],[38,-1.3],[-30,-2.0],[-18,-2.2],[-2,-2.0],[10,-2.4],[24,-2.1],[-15,-2.8],[3,-3.0],[-38,-2.3],[0,0.4],[-20,-1.1],[20,-2.6],[35,-0.9],
  [-39,-0.6],[-37,0.6],[-34,-1.0],[-31,-0.2],[-29,1.2],[-27,-0.8],[-24,-1.8],[-21,0.2],[-19,-0.5],[-16,-1.3],[-13,0.6],[-11,-0.2],[-7,0.4],[-4,-1.0],[-1,-0.6],[1,-1.6],[4,0.0],[7,-0.8],[9,0.8],[11,-1.2],[13,-0.2],[17,-0.6],[19,0.2],[21,-1.5],[23,0.4],[26,-0.8],[29,-0.3],[31,0.8],[34,-0.6],[37,-1.0],[39,0.0],[8,2.6]];
const ptsPls4 = [[0,17.6],[8,15.2],[18,13.7],[-35,8.5],[-25,8.8],[25,11.5],[22,10.0],[-5,7.0],[15,6.5],[35,7.0],[-30,5.5],[5,5.8],[30,5.0],[40,4.0],[-15,4.2],[-38,3.8],[20,3.5],[-20,2.8],[10,2.2],[-8,1.8],[32,2.0],[-28,1.0],[0,0.5],[-35,0.3],[15,0.2],[25,-0.2],[-12,-0.5],[38,-0.8],[-22,-1.2],[5,-1.5],[20,-1.8],[-35,-2.5],[-2,-2.8],[30,-3.0],[-15,-3.5],[12,-4.0],[-28,-4.5],[0,-5.0],[25,-5.2],[-38,-6.0],[-10,-6.5],[18,-6.8],[35,-7.2],[-30,-7.5],[3,-7.5],[-20,-8.5],[28,-8.0],[-5,-9.0],[10,-9.5],[-28,-9.5],[30,-10.0],[20,4.8],[-25,-1.0],[8,3.0],
  [-39,-1.0],[-37,7.0],[-33,-3.2],[-31,1.8],[-29,-6.8],[-27,4.6],[-24,-2.2],[-21,6.4],[-19,-4.0],[-17,0.8],[-14,-8.2],[-11,3.4],[-9,-2.0],[-6,5.2],[-3,-6.0],[-1,2.6],[2,-3.6],[4,8.0],[6,-0.4],[9,-7.0],[11,1.2],[13,-2.4],[16,3.8],[19,-5.6],[21,0.6],[23,-3.0],[26,7.6],[27,-9.6],[29,1.6],[31,-5.8],[33,4.2],[36,-1.4],[39,9.4],[-33,-9.2]];
const ptsCca4 = [[5,0.6],[-20,0.2],[25,0.4],[-35,-0.5],[-5,-0.4],[15,-0.8],[35,-0.6],[-28,-1.0],[0,-1.2],[20,-1.3],[-15,-1.5],[10,-1.8],[30,-1.6],[-38,-1.8],[-22,-2.0],[-8,-2.2],[5,-2.3],[18,-2.0],[38,-2.2],[-32,-2.5],[-12,-2.8],[0,-2.6],[12,-3.0],[25,-2.8],[-25,-3.2],[-5,-3.3],[8,-3.5],[22,-3.4],[35,-3.0],[-35,-3.6],[-18,-3.8],[2,-4.0],[15,-4.2],[30,-4.0],[-28,-4.4],[-10,-4.6],[20,-4.5],[-38,-4.2],[-20,-5.0],[5,-5.2],[28,-4.8],[10,-5.9],[-2,-1.5],[-30,-1.5],[15,-2.5],[32,-3.5],
  [-39,-2.8],[-36,-1.2],[-33,-3.8],[-31,-2.0],[-29,-3.0],[-26,-1.6],[-24,-4.0],[-21,-2.6],[-19,-1.4],[-16,-3.4],[-13,-2.2],[-11,-0.6],[-7,-3.0],[-4,-2.0],[-1,-4.2],[2,-1.8],[4,-3.2],[7,-2.4],[9,-0.6],[11,-3.8],[13,-2.2],[16,-3.4],[19,-1.0],[21,-2.8],[23,-4.2],[26,-2.0],[29,-0.4],[31,-2.6],[33,-1.6],[36,-3.8],[39,-2.6],[20,-5.0],[-6,-5.6]];
const ptsB2b4 = [[35,6.4],[-30,4.2],[15,5.0],[-25,3.8],[20,3.0],[-35,2.5],[5,1.5],[30,1.2],[-10,1.0],[38,0.8],[-20,0.5],[10,0.2],[25,0.0],[-38,-0.5],[-5,-0.3],[15,-0.8],[35,-1.0],[-28,-1.2],[0,-1.5],[22,-1.4],[-15,-1.8],[8,-2.0],[30,-2.2],[-35,-2.5],[-22,-2.3],[-2,-2.8],[18,-2.6],[38,-3.0],[-30,-3.2],[-10,-3.5],[5,-3.3],[25,-3.6],[-38,-3.8],[-18,-4.0],[12,-4.2],[32,-4.0],[-25,-4.5],[0,-4.8],[20,-4.6],[-35,-5.0],[-12,-5.2],[28,-5.0],[-30,-6.5],[-22,-6.8],[8,-5.8],[38,-6.0],[-5,-0.5],[15,1.8],
  [-39,1.8],[-37,-2.0],[-33,-0.4],[-31,-4.6],[-29,0.8],[-27,-2.6],[-24,-5.6],[-21,-1.0],[-19,2.0],[-16,-3.0],[-14,-6.0],[-11,-1.2],[-8,0.4],[-6,-4.0],[-3,-2.2],[-1,-5.8],[2,0.0],[4,-2.4],[6,3.0],[9,-4.4],[11,-1.0],[13,-3.0],[16,-5.2],[19,-0.4],[21,-3.4],[23,-6.2],[26,-1.6],[29,2.6],[31,-3.8],[33,-0.8],[36,-4.8],[39,-2.0],[-8,4.0]];

// significance bars: model index pairs, bar heights (thousandths), star position
const SIG_PAIRS = [[[0, 3], [1, 3]], [[0, 3], [1, 3], [2, 3]], [[0, 3], [1, 3], [2, 3]], []];
const SIG_LEVELS = [[42.1, 44.0], [17.2, 18.1, 19.2], [17.0, 17.9, 18.9], []];
const STARS = [[1.6, 47.3], [1.6, 20.7], [1.6, 20.6], null];

const MEANS = [[fwd1, pls1, cca1, b2b1], [fwd2, pls2, cca2, b2b2], [fwd3, pls3, cca3, b2b3], [fwd4, pls4, cca4, b2b4]];
const ERRS = [[eFwd1, ePls1, eCca1, eB2b1], [eFwd2, ePls2, eCca2, eB2b2], [eFwd3, ePls3, eCca3, eB2b3], [eFwd4, ePls4, eCca4, eB2b4]];
const POINTS = [[ptsFwd1, ptsPls1, ptsCca1, ptsB2b1], [ptsFwd2, ptsPls2, ptsCca2, ptsB2b2], [ptsFwd3, ptsPls3, ptsCca3, ptsB2b3], [ptsFwd4, ptsPls4, ptsCca4, ptsB2b4]];

// layout
const LEFT_X = 67;
const RIGHT_X = 326;
const PANEL_W = 168;
const ROW_TOP = [54, 252, 449.3, 647.7];
const ROW_H = [134.3, 134, 134.7, 135];
const TITLE_Y = [38.5, 237.5, 434.5, 633];
const LEGEND_DOT_X = [88, 230, 325, 426];
const LEGEND_Y = 15.5;

const lineStyle = { color: "#000", width: 1 };
const textBase = { color: "#000", fontFamily: FONT };

function yAxisFor(r: number, g: number, gap: number, margin: number) {
  const labels = Y_LABELS[r];
  return {
    gridIndex: g,
    type: "value",
    min: Y_MIN[r],
    max: Y_MAX[r],
    interval: 0.01,
    axisLine: { show: true, onZero: false, lineStyle },
    axisTick: { show: true, length: 4.5, customValues: Y_TICKS[r], lineStyle },
    axisLabel: {
      show: true,
      customValues: labels,
      margin,
      fontSize: 13,
      ...textBase,
      formatter: (v: number) => (labels.some((l) => Math.abs(l - v) < 1e-9) ? v.toFixed(2) : ""),
    },
    splitLine: { show: false },
    name: "ΔR",
    nameLocation: "middle",
    nameRotate: 0,
    nameGap: gap,
    nameTextStyle: { fontSize: 14, ...textBase, align: "center", verticalAlign: "bottom" },
  };
}

function buildOption() {
  const grid: any[] = [];
  const xAxis: any[] = [];
  const yAxis: any[] = [];
  const series: any[] = [];

  for (let r = 0; r < 4; r++) {
    const gl = 2 * r;
    const gr = 2 * r + 1;
    grid.push({ left: LEFT_X, top: ROW_TOP[r], width: PANEL_W, height: ROW_H[r], containLabel: false });
    grid.push({ left: RIGHT_X, top: ROW_TOP[r], width: PANEL_W, height: ROW_H[r], containLabel: false });

    xAxis.push({
      gridIndex: gl,
      type: "value",
      min: -100,
      max: 1000,
      axisLine: { show: true, onZero: false, lineStyle },
      axisTick: { show: true, length: 4.5, customValues: X_TICKS, lineStyle },
      axisLabel: {
        show: true,
        customValues: X_TICKS,
        margin: 8,
        fontSize: 13,
        ...textBase,
        formatter: (v: number) => String(v),
      },
      splitLine: { show: false },
      name: r === 3 ? "Time (ms)" : "",
      nameLocation: "middle",
      nameGap: 28,
      nameTextStyle: { fontSize: 14, ...textBase },
    });
    xAxis.push({
      gridIndex: gr,
      type: "value",
      min: -0.6,
      max: 3.6,
      axisLine: { show: false, onZero: false },
      axisTick: { show: false },
      axisLabel: { show: false },
      splitLine: { show: false },
      name: r === 3 ? "Model" : "",
      nameLocation: "middle",
      nameGap: 4,
      nameTextStyle: { fontSize: 14, ...textBase },
    });
    yAxis.push(yAxisFor(r, gl, 48.5, 12));
    yAxis.push(yAxisFor(r, gr, 47.5, 11));

    // confidence bands
    for (let m = 0; m < 4; m++) {
      const mean = MEANS[r][m];
      const err = ERRS[r][m];
      const data = TIMES.map((t, i) => [t, (mean[i] - err[i]) * UNIT, (mean[i] + err[i]) * UNIT]);
      series.push({
        type: "custom",
        name: MODELS[m] + " band",
        xAxisIndex: gl,
        yAxisIndex: gl,
        clip: true,
        silent: true,
        z: 1,
        data,
        encode: { x: 0, y: [1, 2] },
        renderItem: (params: any, api: any) => {
          if (params.dataIndex !== 0) return null;
          const upper = data.map((d) => api.coord([d[0], d[2]]));
          const lower = data.map((d) => api.coord([d[0], d[1]])).reverse();
          return {
            type: "polygon",
            shape: { points: upper.concat(lower) },
            style: { fill: COLORS[m], opacity: 0.22 },
          };
        },
      });
    }
    // mean lines
    for (let m = 0; m < 4; m++) {
      const mean = MEANS[r][m];
      const s: any = {
        type: "line",
        name: MODELS[m],
        xAxisIndex: gl,
        yAxisIndex: gl,
        data: TIMES.map((t, i) => [t, mean[i] * UNIT]),
        showSymbol: false,
        symbol: "none",
        silent: true,
        z: 2,
        lineStyle: { color: COLORS[m], width: 1.5 },
        itemStyle: { color: COLORS[m] },
      };
      if (m === 0) {
        s.markLine = {
          silent: true,
          symbol: ["none", "none"],
          label: { show: false },
          lineStyle: { color: "#444", width: 0.8, type: [1, 1.6] },
          data: [{ yAxis: 0 }],
        };
      }
      if (m === 3) {
        s.markLine = {
          silent: true,
          symbol: ["none", "none"],
          label: { show: false },
          lineStyle: { color: "#000", width: 2, type: "solid" },
          data: [{ xAxis: 0 }],
        };
      }
      series.push(s);
    }

    // strip plots
    for (let m = 0; m < 4; m++) {
      const s: any = {
        type: "scatter",
        name: MODELS[m],
        xAxisIndex: gr,
        yAxisIndex: gr,
        data: POINTS[r][m].map(([dx, v]) => [m + dx / 100, v * UNIT]),
        symbolSize: 3.2,
        silent: true,
        z: 3,
        itemStyle: { color: COLORS[m], opacity: 1 },
      };
      if (m === 0) {
        s.markLine = {
          silent: true,
          symbol: ["none", "none"],
          label: { show: false },
          lineStyle: { color: "#000", width: 2, type: [2.2, 2.8] },
          data: [{ yAxis: 0 }],
        };
      }
      series.push(s);
    }

    // significance bars
    SIG_PAIRS[r].forEach(([a, b], k) => {
      const lvl = SIG_LEVELS[r][k] * UNIT;
      series.push({
        type: "line",
        xAxisIndex: gr,
        yAxisIndex: gr,
        data: [[a, lvl], [b, lvl]],
        symbol: "none",
        silent: true,
        z: 4,
        lineStyle: { color: "#d62728", width: 1.6, opacity: 0.85 },
      });
    });
    const star = STARS[r];
    if (star) {
      series.push({
        type: "scatter",
        xAxisIndex: gr,
        yAxisIndex: gr,
        data: [[star[0], star[1] * UNIT]],
        symbolSize: 1,
        clip: false,
        silent: true,
        z: 5,
        itemStyle: { color: "transparent" },
        label: {
          show: true,
          position: "inside",
          formatter: "*",
          color: "#d62728",
          opacity: 0.9,
          fontSize: 14,
          fontFamily: FONT,
          offset: [0, 3],
        },
      });
    }
  }

  const legendGraphics: any[] = [];
  MODELS.forEach((name, i) => {
    legendGraphics.push({
      type: "circle",
      shape: { cx: LEGEND_DOT_X[i], cy: LEGEND_Y, r: 1.5 },
      style: { fill: COLORS[i] },
    });
    legendGraphics.push({
      type: "text",
      x: LEGEND_DOT_X[i] + 17,
      y: LEGEND_Y,
      style: { text: name, font: `20px "${FONT}"`, fill: COLORS[i], align: "left", verticalAlign: "middle" },
    });
  });

  return {
    animation: false,
    backgroundColor: "#fff",
    textStyle: { fontFamily: FONT },
    graphic: [
      ...legendGraphics,
      ...TITLES.map((t, r) => ({
        type: "text",
        x: LEFT_X + PANEL_W / 2,
        y: TITLE_Y[r],
        style: { text: t, font: `17px "${FONT}"`, fill: "#000", align: "center", verticalAlign: "middle" },
      })),
    ],
    grid,
    xAxis,
    yAxis,
    series,
  };
}

export default function App() {
  const ref = useRef<HTMLDivElement>(null);
  useEffect(() => {
    if (!ref.current) return;
    const chart = echarts.init(ref.current, null, { renderer: "svg" });
    chart.setOption(buildOption() as any);
    return () => chart.dispose();
  }, []);
  return (
    <div
      ref={ref}
      style={{ position: "absolute", left: 0, top: 0, width: 494, height: 827, background: "#fff" }}
    />
  );
}
